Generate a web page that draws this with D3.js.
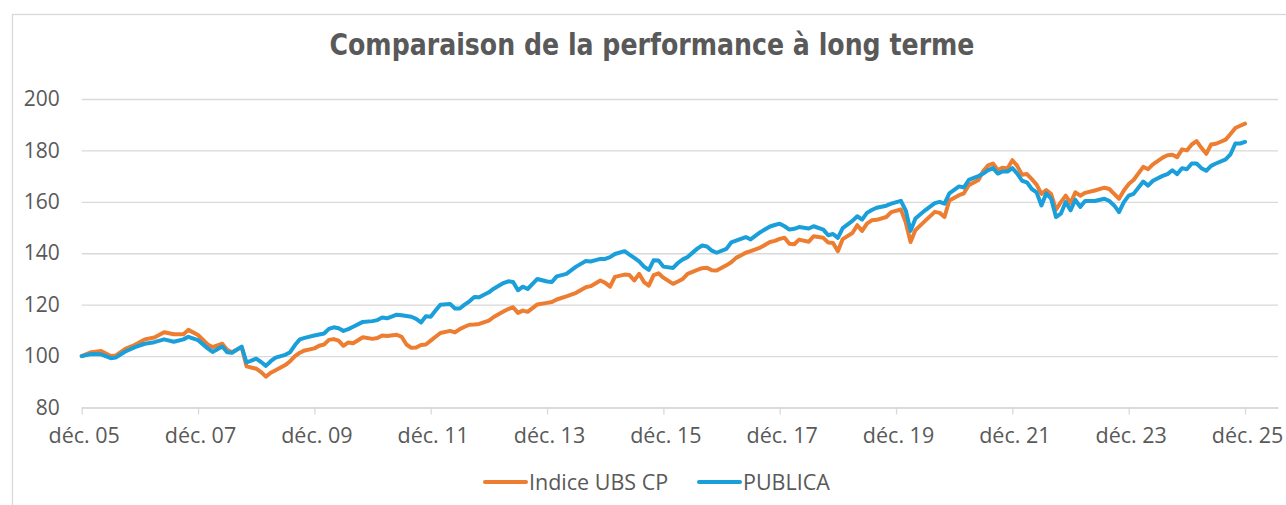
<!DOCTYPE html>
<html>
<head>
<meta charset="utf-8">
<script src="https://cdn.jsdelivr.net/npm/d3@7"></script>
<style>
  html, body { margin: 0; padding: 0; background: #fff; }
  #chart { width: 1286px; height: 505px; }
</style>
</head>
<body>
<div id="chart"></div>
<script>
// Months since déc. 05 at which the values were read
const months = [0,2,4,6,7,9,11,13,15,17,19,21,22,24,26,27,29,30,31,33,34,36,37,38,39,40,42,43,44,45,46,48,49,50,51,52,53,54,55,56,58,60,61,62,63,65,66,67,68,69,70,71,72,73,74,76,77,78,79,80,81,82,84,85,87,88,89,90,91,92,94,96,97,98,100,102,104,105,107,108,109,110,112,113,114,115,116,117,118,119,120,122,123,124,125,127,128,129,130,131,133,134,135,137,138,140,142,143,144,145,146,147,148,150,151,153,154,155,156,157,159,160,161,162,163,164,166,167,169,170,171,172,174,176,177,178,179,181,182,183,185,186,187,188,189,190,191,192,193,194,195,196,197,198,199,200,201,202,203,204,205,206,207,209,211,212,213,214,215,216,217,219,220,221,223,224,225,226,227,228,229,230,231,232,233,234,236,237,238,239,240];

const ubsValues = [100,101.5,102,100,100.2,102.8,104.4,106.5,107.2,109.3,108.5,108.5,110.2,108.2,104.5,103.5,104.8,102.5,101.5,103.5,96,95.1,93.8,92,93.5,94.5,96.5,98,100,101.3,102.2,103,104,104.5,106.3,106.6,106,104,105.3,105,107.3,106.7,107,108,107.8,108.3,107.5,104.5,103.2,103.3,104.3,104.5,106,107.5,109,109.8,109.2,110.5,111.4,112.2,112.3,112.5,113.8,115.2,117.3,118.3,119,116.8,117.7,117.2,120.1,120.7,121,122,123.2,124.6,126.8,127.2,129.4,128.5,127,130.8,131.7,131.5,129.4,132,128.8,127.4,131.5,132.2,130.5,128.1,129,130,132,133.5,134.2,134.4,133.4,133.3,135.3,136.5,138.2,140.2,140.8,142.2,144.4,144.8,145.6,146,143.7,143.5,145.3,144.5,146.6,146,144.2,144,140.8,145.5,147.9,150.9,148.7,151.5,152.8,153,154.1,156,157,152,144.4,149,152.6,156.1,155.7,154.1,160.5,162.6,163.3,166.5,168.5,172,174.2,174.9,172.3,173.3,173,176.2,174,170.5,170.8,168.8,166.7,163.1,164.6,163,156.9,159.9,162.4,159.5,163.7,162.4,163.5,164.4,165.5,165,163.1,161.2,164.4,166.9,168.5,173.6,172.7,174.6,177.2,178.1,178.3,177.4,180.4,180,182.3,183.6,181,178.7,182.3,182.6,184.2,186.4,188.7,189.6,190.4];

const publicaValues = [100,100.8,100.7,99.2,99.4,101.8,103.5,104.8,105.4,106.5,105.6,106.5,107.5,106.2,103,101.6,103.7,101.5,101.3,103.7,97.5,99,97.7,96.2,98,99.4,100.5,101.5,104.3,106.5,107.1,108,108.4,108.8,110.6,111.2,110.8,109.8,110.5,111.4,113.3,113.6,114,115,114.7,116.1,115.9,115.6,115.3,114.5,113.1,115.5,115.3,117.7,120,120.3,118.5,118.5,120,121.3,123,122.9,124.8,126.2,128.4,129.1,128.8,125.6,127,126.1,130,129,128.8,131,132,134.8,137,136.8,137.8,137.8,138.5,139.7,140.8,139.5,138.2,136.8,134.8,133.5,137.3,137.2,134.8,134.3,136.2,137.6,138.5,141.8,143,142.6,141,140.2,141.7,144.2,144.9,146.3,145.4,148.2,150.4,151,151.5,150.5,149.2,149.5,150.2,149.6,150.5,149.2,147,147.5,146,149.8,152.6,154.4,153.1,155.7,156.8,157.7,158.5,159.3,160.4,156.7,148.7,153.5,156.7,159.5,160,159.3,163.3,166,165.6,168.5,170,171,172.3,173.1,171,171.8,171.8,173.1,171,168.2,167.6,165,163.7,158.6,163.3,161.2,154.1,155.4,159.9,156.7,160.8,158,160.3,160.3,161.2,160.3,158.6,156,159.9,162.4,163.1,167.9,166.3,168.2,170.1,170.8,172.3,170.8,173.1,172.7,174.9,174.9,173.1,172.1,174,174.9,176.5,178.5,182.7,182.7,183.3];

const seriesNames = ["Indice UBS CP", "PUBLICA"];
const tickMonths = [0,24,48,72,96,120,144,168,192,216,240];
const tickLabels = ["déc. 05","déc. 07","déc. 09","déc. 11","déc. 13","déc. 15","déc. 17","déc. 19","déc. 21","déc. 23","déc. 25"];
const yTicks = [80,100,120,140,160,180,200];

const width = 1286, height = 505;
const textColor = "#595959";
const gridColor = "#d9d9d9";
const colors = ["#ED7D31", "#1A9FDA"];
const font = "'Open Sans', 'Noto Sans', sans-serif";

const x = d3.scaleLinear().domain([0, 246.8]).range([81.7, 1278]);
const y = d3.scaleLinear().domain([80, 200]).range([407.5, 99]);

const svg = d3.create("svg")
    .attr("width", width)
    .attr("height", height)
    .attr("viewBox", [0, 0, width, height]);

// Chart frame
svg.append("rect")
    .attr("x", 12.5).attr("y", 14.5)
    .attr("width", 1400).attr("height", 600)
    .attr("fill", "#fff")
    .attr("stroke", gridColor)
    .attr("stroke-width", 1.3);

// Title
svg.append("text")
    .attr("x", 652)
    .attr("y", 55)
    .attr("text-anchor", "middle")
    .attr("textLength", 645)
    .attr("lengthAdjust", "spacingAndGlyphs")
    .style("font-family", "'Liberation Sans Narrow', 'DejaVu Sans Condensed', Roboto, sans-serif")
    .style("font-weight", "bold")
    .style("font-size", "30px")
    .style("fill", textColor)
    .text("Comparaison de la performance à long terme");

// Y axis with gridlines
const yAxis = svg.append("g")
    .attr("transform", "translate(81.7,0)")
    .call(d3.axisLeft(y)
        .tickValues(yTicks)
        .tickSize(-(1278 - 81.7))
        .tickPadding(22));
yAxis.select(".domain").remove();
yAxis.selectAll(".tick line")
    .attr("stroke", gridColor)
    .attr("stroke-width", 1.3);
yAxis.selectAll(".tick text")
    .style("font-family", font)
    .style("font-size", "21px")
    .style("fill", textColor);

// X axis
const xAxis = svg.append("g")
    .attr("transform", "translate(0,407.5)")
    .call(d3.axisBottom(x)
        .tickValues(tickMonths)
        .tickFormat((d, i) => tickLabels[i])
        .tickSizeInner(7)
        .tickSizeOuter(0)
        .tickPadding(13));
xAxis.select(".domain")
    .attr("stroke", gridColor)
    .attr("stroke-width", 1.3);
xAxis.selectAll(".tick line")
    .attr("stroke", gridColor)
    .attr("stroke-width", 1.3);
xAxis.selectAll(".tick text")
    .attr("dx", 2)
    .style("font-family", font)
    .style("font-size", "21.5px")
    .style("fill", textColor);

// Lines
const allValues = [ubsValues, publicaValues];
const line = d3.line()
    .x((d, i) => x(months[i]))
    .y(d => y(d));

svg.append("g")
    .selectAll("path")
    .data(allValues)
    .join("path")
    .attr("fill", "none")
    .attr("stroke", (d, i) => colors[i])
    .attr("stroke-width", 4)
    .attr("stroke-linejoin", "round")
    .attr("stroke-linecap", "round")
    .attr("d", line);

// Legend
const legendX = [485, 699];
const legend = svg.append("g")
    .selectAll("g")
    .data(seriesNames)
    .join("g")
    .attr("transform", (d, i) => `translate(${legendX[i]},482)`);

legend.append("line")
    .attr("x1", 0).attr("x2", 41)
    .attr("stroke", (d, i) => colors[i])
    .attr("stroke-width", 4)
    .attr("stroke-linecap", "round");

legend.append("text")
    .attr("x", 44)
    .attr("dy", "0.35em")
    .style("font-family", font)
    .style("font-size", "21.5px")
    .style("fill", textColor)
    .text(d => d);

document.getElementById("chart").appendChild(svg.node());
</script>
</body>
</html>
